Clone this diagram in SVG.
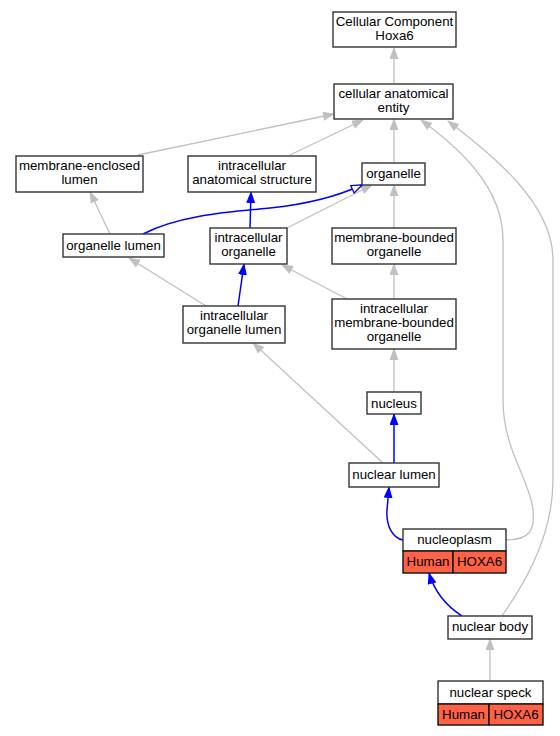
<svg xmlns="http://www.w3.org/2000/svg" width="560" height="736" viewBox="0 0 560 736">
<style>
.n{fill:#fff;stroke:#333;stroke-width:1.4}
.h{fill:#ff6347;stroke:#111;stroke-width:1.4}
.t{font-family:"Liberation Sans",Arial,sans-serif;font-size:13.3px;fill:#000;text-anchor:middle}
.g{fill:none;stroke:#c0c0c0;stroke-width:1.3}
.b{fill:none;stroke:#0000ff;stroke-width:1.5}
</style>
<defs>
<marker id="ag" markerUnits="userSpaceOnUse" markerWidth="12" markerHeight="9" refX="11" refY="4.5" orient="auto" viewBox="0 0 12 9"><path d="M0,0 L12,4.5 L0,9 z" fill="#c0c0c0"/></marker>
<marker id="ab" markerUnits="userSpaceOnUse" markerWidth="12" markerHeight="9" refX="11" refY="4.5" orient="auto" viewBox="0 0 12 9"><path d="M0,0 L12,4.5 L0,9 z" fill="#0000ff"/></marker>
<marker id="ao" markerUnits="userSpaceOnUse" markerWidth="13" markerHeight="10" refX="11.5" refY="5" orient="auto" viewBox="0 0 13 10"><path d="M1,1 L12,5 L1,9 z" fill="#fff" stroke="#0000ff" stroke-width="1.3"/></marker>
</defs>
<g id="connectors">
<path class="g" marker-end="url(#ag)" d="M394,83 L394,48"/>
<path class="g" marker-end="url(#ag)" d="M138,155 L334,114"/>
<path class="g" marker-end="url(#ag)" d="M290,155 L363,120"/>
<path class="g" marker-end="url(#ag)" d="M394,162 L394,119"/>
<path class="g" marker-end="url(#ag)" d="M506,540 C530,540 535,530 533,510 C530,480 503,450 503,400 L503,240 C503,185 455,145 421,120"/>
<path class="g" marker-end="url(#ag)" d="M502,616 C520,590 553,540 553,480 L553,260 C553,200 485,150 448,121"/>
<path class="g" marker-end="url(#ag)" d="M110,234 L90,192"/>
<path class="g" marker-end="url(#ag)" d="M287,228 L372,185"/>
<path class="b" marker-end="url(#ao)" d="M143,234 C180,215 230,212 270,208 C310,204 340,195 362,185"/>
<path class="b" marker-end="url(#ab)" d="M250,228 L251,192"/>
<path class="g" marker-end="url(#ag)" d="M394,228 L394,185"/>
<path class="g" marker-end="url(#ag)" d="M206,306 L129,258"/>
<path class="b" marker-end="url(#ab)" d="M238,306 L244,264"/>
<path class="g" marker-end="url(#ag)" d="M347,299 L282,265"/>
<path class="g" marker-end="url(#ag)" d="M394,299 L394,264"/>
<path class="g" marker-end="url(#ag)" d="M394,392 L394,349"/>
<path class="g" marker-end="url(#ag)" d="M383,463 L253,343"/>
<path class="b" marker-end="url(#ab)" d="M394,463 L394,414"/>
<path class="b" marker-end="url(#ab)" d="M403,540 C392,538 386,525 387,510 L389,487"/>
<path class="b" marker-end="url(#ab)" d="M462,616 C445,605 434,590 429,573"/>
<path class="g" marker-end="url(#ag)" d="M490,681 L490,639"/>
</g>
<g id="n1"><rect class="n" x="333" y="12" width="123" height="35"/><text class="t" x="394.5" y="26">Cellular Component</text><text class="t" x="394.5" y="40">Hoxa6</text></g>
<g id="n2"><rect class="n" x="334" y="84" width="119" height="35"/><text class="t" x="393.5" y="98">cellular anatomical</text><text class="t" x="393.5" y="112">entity</text></g>
<g id="n3"><rect class="n" x="16" y="156" width="127" height="36"/><text class="t" x="79.5" y="170">membrane-enclosed</text><text class="t" x="79.5" y="184">lumen</text></g>
<g id="n4"><rect class="n" x="188" y="156" width="128" height="36"/><text class="t" x="252" y="170">intracellular</text><text class="t" x="252" y="184">anatomical structure</text></g>
<g id="n5"><rect class="n" x="362" y="163" width="63" height="22"/><text class="t" x="393.5" y="178">organelle</text></g>
<g id="n6"><rect class="n" x="63" y="234" width="101" height="23"/><text class="t" x="113.5" y="250">organelle lumen</text></g>
<g id="n7"><rect class="n" x="210" y="228" width="77" height="36"/><text class="t" x="248.5" y="242">intracellular</text><text class="t" x="248.5" y="256">organelle</text></g>
<g id="n8"><rect class="n" x="332" y="228" width="124" height="36"/><text class="t" x="394" y="242">membrane-bounded</text><text class="t" x="394" y="256">organelle</text></g>
<g id="n9"><rect class="n" x="183" y="306" width="102" height="37"/><text class="t" x="234" y="320">intracellular</text><text class="t" x="234" y="334">organelle lumen</text></g>
<g id="n10"><rect class="n" x="332" y="299" width="124" height="50"/><text class="t" x="394" y="313">intracellular</text><text class="t" x="394" y="327">membrane-bounded</text><text class="t" x="394" y="341">organelle</text></g>
<g id="n11"><rect class="n" x="367" y="392" width="54" height="22"/><text class="t" x="394" y="408">nucleus</text></g>
<g id="n12"><rect class="n" x="349" y="463" width="90" height="24"/><text class="t" x="394" y="479">nuclear lumen</text></g>
<g id="n13"><rect class="n" x="403" y="529" width="103" height="22"/><text class="t" x="454.5" y="544">nucleoplasm</text><rect class="h" x="403" y="551" width="50" height="22"/><text class="t" x="428" y="566">Human</text><rect class="h" x="453" y="551" width="53" height="22"/><text class="t" x="479.5" y="566">HOXA6</text></g>
<g id="n14"><rect class="n" x="448" y="616" width="84" height="23"/><text class="t" x="490" y="631">nuclear body</text></g>
<g id="n15"><rect class="n" x="438" y="681" width="105" height="23"/><text class="t" x="490.5" y="697">nuclear speck</text><rect class="h" x="438" y="704" width="51" height="21"/><text class="t" x="463.5" y="719">Human</text><rect class="h" x="489" y="704" width="54" height="21"/><text class="t" x="516" y="719">HOXA6</text></g>
</svg>
